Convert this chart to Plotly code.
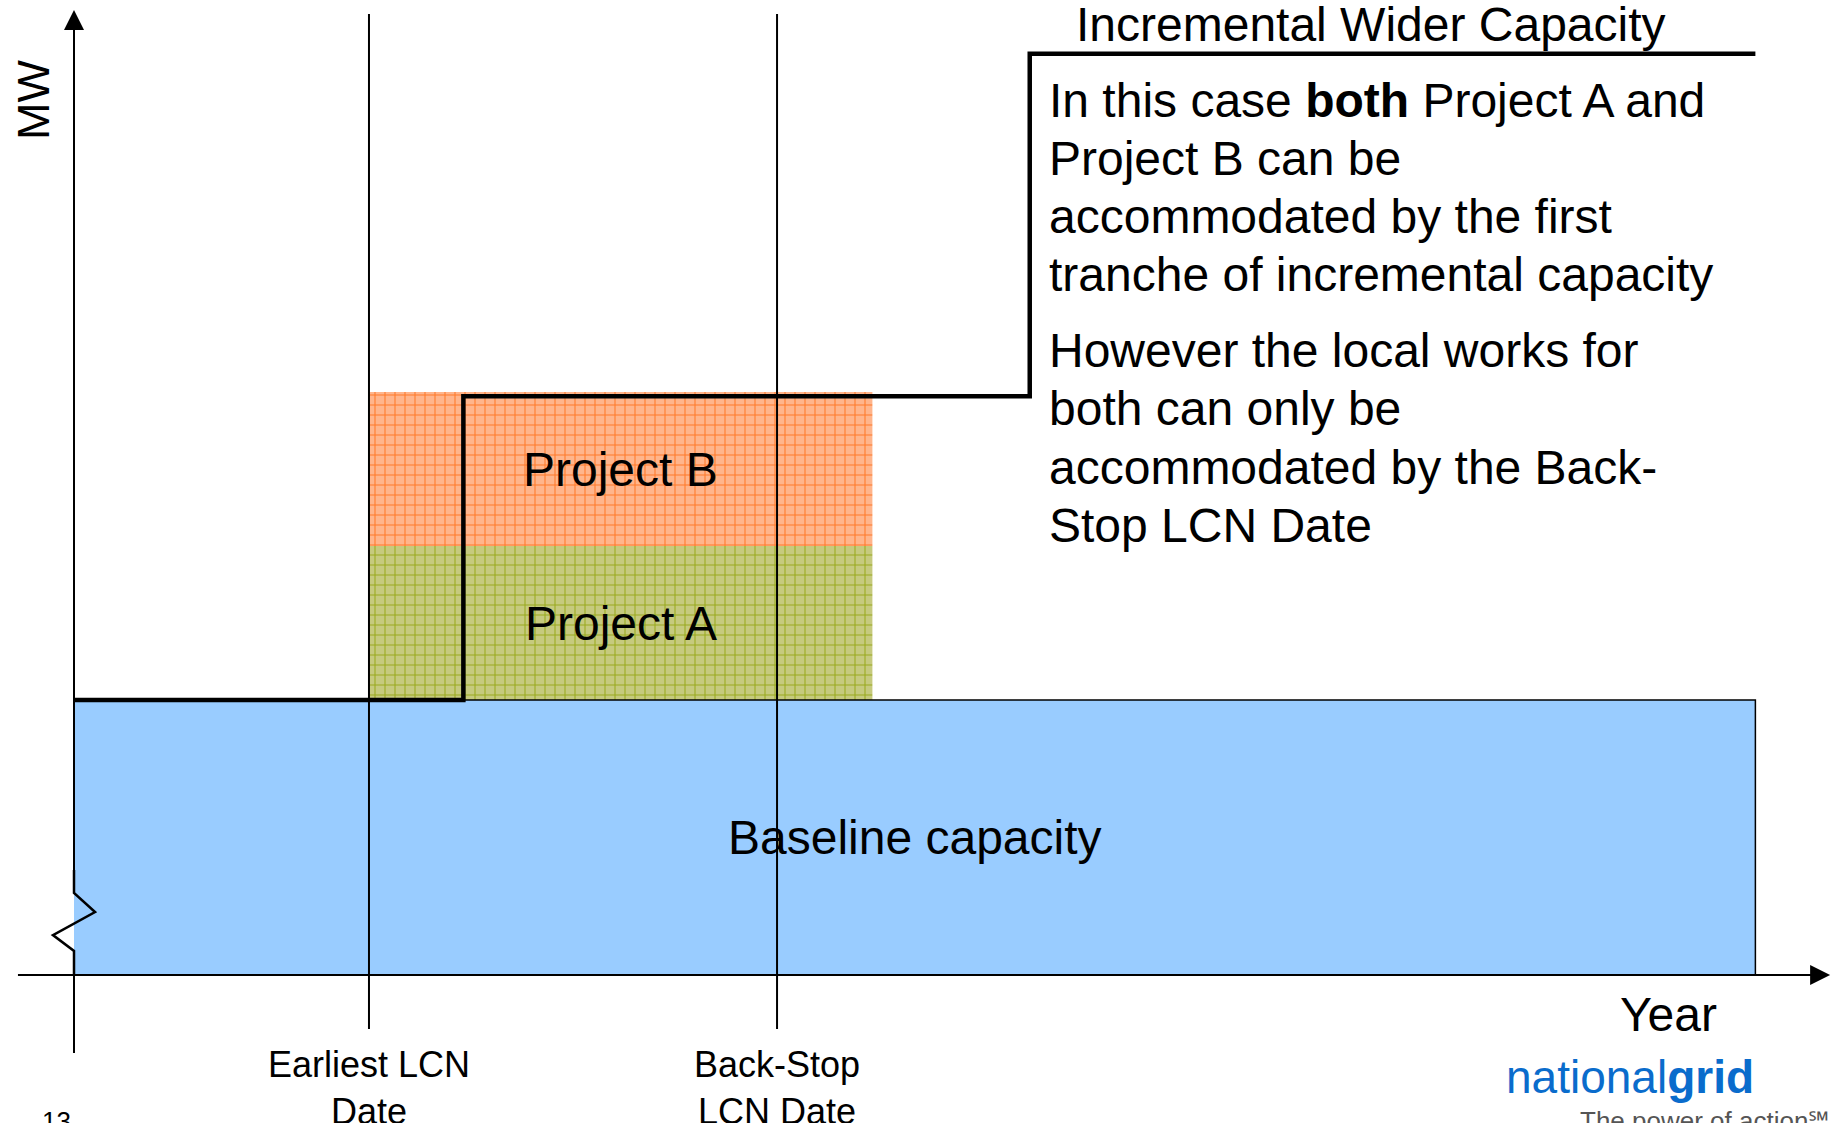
import plotly.graph_objects as go

# ---- data -------------------------------------------------------------
# Time axis in years from the start of the horizon, capacity in MW
milestone_labels = ["Earliest LCN<br>Date", "Back-Stop<br>LCN Date"]
milestone_years = [3.0, 7.15]

baseline_label = "Baseline capacity"
baseline_span = [0.0, 17.1]
baseline_mw = 100

project_names = ["Project A", "Project B"]
project_span = [3.0, 8.12]
project_mw = [56, 56]

# Stepped wider-system capacity (level reached from each year onwards)
capacity_years = [0.0, 3.96, 9.72, 17.1]
capacity_mw = [100, 210.5, 335, 335]
capacity_label = "Incremental Wider Capacity"

note_para_1 = [
    "In this case <b>both</b> Project A and",
    "Project B can be",
    "accommodated by the first",
    "tranche of incremental capacity",
]
note_para_2 = [
    "However the local works for",
    "both can only be",
    "accommodated by the Back-",
    "Stop LCN Date",
]

# ---- layout constants -------------------------------------------------
W, H = 1837, 1123
FONT = "Liberation Sans, Arial, Helvetica, sans-serif"
X_RANGE = [-0.7526, 17.930]
Y_RANGE = [-53.82, 354.55]
Y_AXIS_EXTENT = [-28.4, 350.9]
X_AXIS_EXTENT = [-0.57, 17.86]
MILESTONE_EXTENT = [-19.6, 349.5]
BREAK_Y = [8.73, 14.5, 22.9, 29.8, 38.2]
BREAK_DX = 0.214

BLUE = "#99CCFF"
ORANGE_BG, ORANGE_FG = "#FFB58C", "#FF7A2A"
GREEN_BG, GREEN_FG = "#C6CA7E", "#9AAA1E"


def paper(px, py):
    return px / W, 1 - py / H


fig = go.Figure()

# Baseline capacity block
fig.add_trace(go.Bar(
    x=[(baseline_span[0] + baseline_span[1]) / 2],
    y=[baseline_mw], base=[0],
    width=[baseline_span[1] - baseline_span[0]],
    marker=dict(color=BLUE, line=dict(width=0)),
    hoverinfo="skip",
))

# Project blocks stacked on top of the baseline, with a grid fill
proj_styles = [(GREEN_BG, GREEN_FG), (ORANGE_BG, ORANGE_FG)]
proj_base = baseline_mw
proj_centres = []
for name, mw, (bg, fg) in zip(project_names, project_mw, proj_styles):
    fig.add_trace(go.Bar(
        x=[(project_span[0] + project_span[1]) / 2],
        y=[mw], base=[proj_base],
        width=[project_span[1] - project_span[0]],
        marker=dict(
            color=bg, line=dict(width=0),
            pattern=dict(shape="+", size=10, solidity=0.2,
                         fgcolor=fg, bgcolor=bg, fillmode="replace"),
        ),
        hoverinfo="skip",
    ))
    proj_centres.append(proj_base + mw / 2)
    proj_base += mw

# Outline of the baseline block (top and right edges)
fig.add_trace(go.Scatter(
    x=[baseline_span[0], baseline_span[1], baseline_span[1]],
    y=[baseline_mw, baseline_mw, 0],
    mode="lines", line=dict(color="black", width=1.5),
    hoverinfo="skip",
))

# Milestone date lines
for yr in milestone_years:
    fig.add_trace(go.Scatter(
        x=[yr, yr], y=MILESTONE_EXTENT,
        mode="lines", line=dict(color="black", width=2),
        hoverinfo="skip",
    ))

# Axes: vertical axis with a scale break near the origin, horizontal axis
fig.add_trace(go.Scatter(
    x=[0, 0], y=[Y_AXIS_EXTENT[0], BREAK_Y[0]],
    mode="lines", line=dict(color="black", width=2), hoverinfo="skip",
))
fig.add_trace(go.Scatter(
    x=[0, 0], y=[BREAK_Y[3], Y_AXIS_EXTENT[1] - 5],
    mode="lines", line=dict(color="black", width=2), hoverinfo="skip",
))
fig.add_trace(go.Scatter(
    x=[0, 0, -BREAK_DX, BREAK_DX, 0, 0],
    y=[0, BREAK_Y[0], BREAK_Y[1], BREAK_Y[2], BREAK_Y[3], BREAK_Y[4]],
    mode="lines", line=dict(color="black", width=2.5), hoverinfo="skip",
))
fig.add_trace(go.Scatter(
    x=[X_AXIS_EXTENT[0], X_AXIS_EXTENT[1] - 0.1], y=[0, 0],
    mode="lines", line=dict(color="black", width=2), hoverinfo="skip",
))

# Stepped capacity line
fig.add_trace(go.Scatter(
    x=capacity_years, y=capacity_mw,
    mode="lines", line=dict(color="black", width=4.5, shape="hv"),
    hoverinfo="skip",
))

annotations = []

# Arrow heads on the axes
annotations.append(dict(
    x=0, y=Y_AXIS_EXTENT[1], ax=0, ay=Y_AXIS_EXTENT[1] - 20,
    xref="x", yref="y", axref="x", ayref="y", text="",
    showarrow=True, arrowhead=2, arrowsize=2, arrowwidth=2, arrowcolor="black",
))
annotations.append(dict(
    x=X_AXIS_EXTENT[1], y=0, ax=X_AXIS_EXTENT[1] - 0.5, ay=0,
    xref="x", yref="y", axref="x", ayref="y", text="",
    showarrow=True, arrowhead=2, arrowsize=2, arrowwidth=2, arrowcolor="black",
))

big = dict(family=FONT, size=48, color="black")


def label(px, py, text, font, xanchor="center", **kw):
    x, y = paper(px, py)
    return dict(x=x, y=y, xref="paper", yref="paper", text=text,
                showarrow=False, xanchor=xanchor, yanchor="middle",
                font=font, **kw)


# Block labels
for name, yc in zip(project_names, proj_centres):
    annotations.append(dict(
        x=(project_span[0] + project_span[1]) / 2, y=yc,
        xref="x", yref="y", text=name, showarrow=False, font=big,
        xanchor="center", yanchor="middle",
    ))
annotations.append(dict(
    x=(baseline_span[0] + baseline_span[1]) / 2, y=baseline_mw / 2,
    xref="x", yref="y", text=baseline_label, showarrow=False, font=big,
    xanchor="center", yanchor="middle",
))

# Milestone labels under the horizontal axis
for lab, yr in zip(milestone_labels, milestone_years):
    annotations.append(dict(
        x=yr, y=paper(0, 1042)[1], xref="x", yref="paper",
        text=lab, showarrow=False, xanchor="center", yanchor="top",
        font=dict(family=FONT, size=36, color="black"),
    ))

# Axis titles
annotations.append(label(33, 100, "MW",
                         dict(family=FONT, size=45, color="black"),
                         textangle=-90))
annotations.append(label(1668, 1015, "Year", big))

# Capacity step caption
annotations.append(label(1371, 25, capacity_label, big))

# Explanatory note
line_gap = 58
for start, lines in ((100.5, note_para_1), (351, note_para_2)):
    for i, txt in enumerate(lines):
        annotations.append(label(1047, start + i * line_gap, txt, big,
                                 xanchor="left"))

# Footer: page number and logo
annotations.append(label(56, 1121, "13",
                         dict(family=FONT, size=26, color="black")))
annotations.append(label(1630, 1077, "national<b>grid</b>",
                         dict(family=FONT, size=46, color="#0A6CCC")))
annotations.append(label(1704, 1121, "The power of action℠",
                         dict(family=FONT, size=26, color="#555555")))

fig.update_layout(
    width=W, height=H,
    margin=dict(l=0, r=0, t=0, b=0),
    paper_bgcolor="white", plot_bgcolor="white",
    barmode="overlay", showlegend=False,
    xaxis=dict(range=X_RANGE, visible=False, fixedrange=True),
    yaxis=dict(range=Y_RANGE, visible=False, fixedrange=True),
    annotations=annotations,
)

fig.write_html("out.html", config={"displayModeBar": False})
